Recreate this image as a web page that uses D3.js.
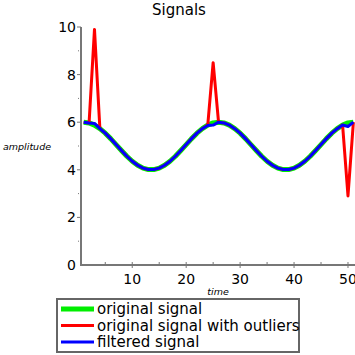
<!DOCTYPE html>
<html>
<head>
<meta charset="utf-8">
<script src="https://cdn.jsdelivr.net/npm/d3@7"></script>
<style>
  body { margin: 0; background: #fff; }
  text { font-family: "DejaVu Sans", sans-serif; }
</style>
</head>
<body>
<div id="chart"></div>
<script>
var width = 355,
    height = 355;

// time steps 1..51
var time = d3.range(1, 52);

// values
var original = [6.00, 5.97, 5.88, 5.73, 5.54, 5.31, 5.06, 4.81, 4.57, 4.36,
  4.19, 4.07, 4.01, 4.01, 4.07, 4.19, 4.36, 4.57, 4.81, 5.06,
  5.31, 5.54, 5.73, 5.88, 5.97, 6.00, 5.97, 5.88, 5.73, 5.54,
  5.31, 5.06, 4.81, 4.57, 4.36, 4.19, 4.07, 4.01, 4.01, 4.07,
  4.19, 4.36, 4.57, 4.81, 5.06, 5.31, 5.54, 5.73, 5.88, 5.97, 6.00];

var outliers = [6.00, 5.97, 9.90, 5.73, 5.54, 5.31, 5.06, 4.81, 4.57, 4.36,
  4.19, 4.07, 4.01, 4.01, 4.07, 4.19, 4.36, 4.57, 4.81, 5.06,
  5.31, 5.54, 5.73, 5.88, 8.50, 6.00, 5.97, 5.88, 5.73, 5.54,
  5.31, 5.06, 4.81, 4.57, 4.36, 4.19, 4.07, 4.01, 4.01, 4.07,
  4.19, 4.36, 4.57, 4.81, 5.06, 5.31, 5.54, 5.73, 5.88, 2.90, 6.00];

var filtered = [6.00, 5.97, 5.95, 5.73, 5.54, 5.31, 5.06, 4.81, 4.57, 4.36,
  4.19, 4.07, 4.01, 4.01, 4.07, 4.19, 4.36, 4.57, 4.81, 5.06,
  5.31, 5.54, 5.73, 5.86, 5.88, 6.00, 5.97, 5.88, 5.73, 5.54,
  5.31, 5.06, 4.81, 4.57, 4.36, 4.19, 4.07, 4.01, 4.01, 4.07,
  4.19, 4.36, 4.57, 4.81, 5.06, 5.31, 5.54, 5.73, 5.88, 5.82, 6.00];

var xTicks = [10, 20, 30, 40, 50],
    yTicks = [0, 2, 4, 6, 8, 10];

var series = [
  {name: "original signal", values: original, color: "#00ee00", w: 5},
  {name: "original signal with outliers", values: outliers, color: "#ff0000", w: 3},
  {name: "filtered signal", values: filtered, color: "#0000ff", w: 3}
];

var svg = d3.select("#chart").append("svg")
    .attr("width", width)
    .attr("height", height);

var x = d3.scaleLinear().domain([0.5, 51.3]).range([81, 355]);
var y = d3.scaleLinear().domain([0, 10]).range([265, 27]);

var axisColor = "#777";

/* axes */
var xAxis = svg.append("g").attr("transform", "translate(0,265)");
xAxis.append("line").attr("x1", 81).attr("x2", 355)
    .attr("stroke", axisColor).attr("stroke-width", 2);
xAxis.selectAll(".minor").data(d3.range(5, 55, 5)).enter().append("line")
    .attr("x1", function(d){return x(d)}).attr("x2", function(d){return x(d)})
    .attr("y1", -3).attr("y2", function(d){return d % 10 == 0 ? 3 : 0})
    .attr("stroke", axisColor).attr("stroke-width", 1);
xAxis.selectAll(".lbl").data(xTicks).enter().append("text")
    .attr("x", function(d){return x(d)}).attr("y", 19)
    .attr("text-anchor", "middle").style("font-size", "14px")
    .text(function(d){return d});

var yAxis = svg.append("g").attr("transform", "translate(81,0)");
yAxis.append("line").attr("y1", y(0) + 1).attr("y2", y(10))
    .attr("stroke", axisColor).attr("stroke-width", 2);
yAxis.selectAll(".minor").data(d3.range(1, 11)).enter().append("line")
    .attr("y1", function(d){return y(d)}).attr("y2", function(d){return y(d)})
    .attr("x1", function(d){return d % 2 == 0 ? -4 : -3}).attr("x2", function(d){return d % 2 == 0 ? 0 : -2})
    .attr("stroke", axisColor).attr("stroke-width", 1);
yAxis.selectAll(".lbl").data(yTicks).enter().append("text")
    .attr("x", -5).attr("y", function(d){return y(d)}).attr("dy", "0.36em")
    .attr("text-anchor", "end").style("font-size", "14px")
    .text(function(d){return d});

/* lines */
var line = d3.line()
    .x(function(d, i){return x(time[i])})
    .y(function(d){return y(d)});

svg.selectAll("path.sig").data(series).enter().append("path")
    .attr("class", "sig")
    .attr("d", function(d){return line(d.values)})
    .attr("fill", "none")
    .attr("stroke", function(d){return d.color})
    .attr("stroke-width", function(d){return d.w})
    .attr("stroke-linejoin", "round");

/* titles */
svg.append("text").attr("x", 179).attr("y", 15)
    .attr("text-anchor", "middle").style("font-size", "15px").text("Signals");
svg.append("text").attr("x", 3).attr("y", 150)
    .style("font-size", "9.5px").style("font-style", "italic").text("amplitude");
svg.append("text").attr("x", 218).attr("y", 295)
    .attr("text-anchor", "middle")
    .style("font-size", "9.5px").style("font-style", "italic").text("time");

/* legend */
var legend = svg.append("g");
legend.append("rect").attr("x", 57).attr("y", 299).attr("width", 242).attr("height", 53)
    .attr("fill", "#fff").attr("stroke", "#666").attr("stroke-width", 2);
var item = legend.selectAll("g.item").data(series).enter().append("g")
    .attr("transform", function(d, i){return "translate(0," + (309 + i * 16.5) + ")"});
item.append("line").attr("x1", 61).attr("x2", 94)
    .attr("stroke", function(d){return d.color})
    .attr("stroke-width", function(d){return d.w});
item.append("text").attr("x", 97).attr("dy", "0.35em")
    .style("font-size", "15px").text(function(d){return d.name});
</script>
</body>
</html>
